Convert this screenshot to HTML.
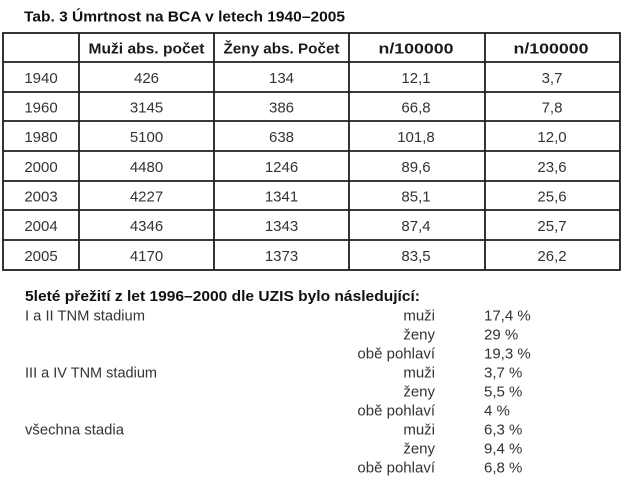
<!DOCTYPE html>
<html>
<head>
<meta charset="utf-8">
<style>
html,body{margin:0;padding:0;background:#fff;}
svg{display:block;}
text{font-family:"Liberation Sans",sans-serif;}
.t{font-size:15px;fill:#333;}
.h{font-size:15px;font-weight:bold;fill:#1a1a1a;}
.b{font-size:14.5px;font-weight:bold;fill:#111;}
</style>
</head>
<body>
<svg width="628" height="488" viewBox="0 0 628 488" xmlns="http://www.w3.org/2000/svg">
<rect width="628" height="488" fill="#fff"/>
<text class="b" x="24" y="21.5" textLength="321" lengthAdjust="spacingAndGlyphs">Tab. 3 Úmrtnost na BCA v letech 1940–2005</text>

<g stroke="#1e1e1e" stroke-width="1.8" fill="none">
<rect x="3" y="33" width="617" height="237"/>
<line x1="79" y1="33" x2="79" y2="270"/>
<line x1="214" y1="33" x2="214" y2="270"/>
<line x1="349" y1="33" x2="349" y2="270"/>
<line x1="485" y1="33" x2="485" y2="270"/>
<line x1="3" y1="62" x2="620" y2="62"/>
<line x1="3" y1="92" x2="620" y2="92"/>
<line x1="3" y1="121" x2="620" y2="121"/>
<line x1="3" y1="151" x2="620" y2="151"/>
<line x1="3" y1="181" x2="620" y2="181"/>
<line x1="3" y1="210" x2="620" y2="210"/>
<line x1="3" y1="240" x2="620" y2="240"/>
</g>

<g text-anchor="middle">
<text class="h" x="146.5" y="53.5" textLength="116" lengthAdjust="spacingAndGlyphs">Muži abs. počet</text>
<text class="h" x="281.5" y="53.5" textLength="116" lengthAdjust="spacingAndGlyphs">Ženy abs. Počet</text>
<text class="h" x="416" y="53.5" textLength="75" lengthAdjust="spacingAndGlyphs">n/100000</text>
<text class="h" x="551" y="53.5" textLength="75" lengthAdjust="spacingAndGlyphs">n/100000</text>

<g class="t">
<text x="41" y="83">1940</text><text x="146.5" y="83">426</text><text x="281.5" y="83">134</text><text x="416" y="83">12,1</text><text x="552" y="83">3,7</text>
<text x="41" y="112.5">1960</text><text x="146.5" y="112.5">3145</text><text x="281.5" y="112.5">386</text><text x="416" y="112.5">66,8</text><text x="552" y="112.5">7,8</text>
<text x="41" y="142">1980</text><text x="146.5" y="142">5100</text><text x="281.5" y="142">638</text><text x="416" y="142">101,8</text><text x="552" y="142">12,0</text>
<text x="41" y="172">2000</text><text x="146.5" y="172">4480</text><text x="281.5" y="172">1246</text><text x="416" y="172">89,6</text><text x="552" y="172">23,6</text>
<text x="41" y="201.5">2003</text><text x="146.5" y="201.5">4227</text><text x="281.5" y="201.5">1341</text><text x="416" y="201.5">85,1</text><text x="552" y="201.5">25,6</text>
<text x="41" y="231">2004</text><text x="146.5" y="231">4346</text><text x="281.5" y="231">1343</text><text x="416" y="231">87,4</text><text x="552" y="231">25,7</text>
<text x="41" y="261">2005</text><text x="146.5" y="261">4170</text><text x="281.5" y="261">1373</text><text x="416" y="261">83,5</text><text x="552" y="261">26,2</text>
</g>
</g>

<text class="b" x="25" y="301" textLength="395" lengthAdjust="spacingAndGlyphs">5leté přežití z let 1996–2000 dle UZIS bylo následující:</text>

<g class="t">
<text x="25" y="320.5" textLength="120" lengthAdjust="spacingAndGlyphs">I a II TNM stadium</text>
<text x="25" y="377.5" textLength="132" lengthAdjust="spacingAndGlyphs">III a IV TNM stadium</text>
<text x="25" y="434.5" textLength="99" lengthAdjust="spacingAndGlyphs">všechna stadia</text>
</g>

<g class="t" text-anchor="end">
<text x="435" y="320.5">muži</text>
<text x="435" y="339.5">ženy</text>
<text x="435" y="358.5">obě pohlaví</text>
<text x="435" y="377.5">muži</text>
<text x="435" y="396.5">ženy</text>
<text x="435" y="415.5">obě pohlaví</text>
<text x="435" y="434.5">muži</text>
<text x="435" y="453.5">ženy</text>
<text x="435" y="472.5">obě pohlaví</text>
</g>
<g class="t">
<text x="484" y="320.5">17,4 %</text>
<text x="484" y="339.5">29 %</text>
<text x="484" y="358.5">19,3 %</text>
<text x="484" y="377.5">3,7 %</text>
<text x="484" y="396.5">5,5 %</text>
<text x="484" y="415.5">4 %</text>
<text x="484" y="434.5">6,3 %</text>
<text x="484" y="453.5">9,4 %</text>
<text x="484" y="472.5">6,8 %</text>
</g>
</svg>
</body>
</html>
